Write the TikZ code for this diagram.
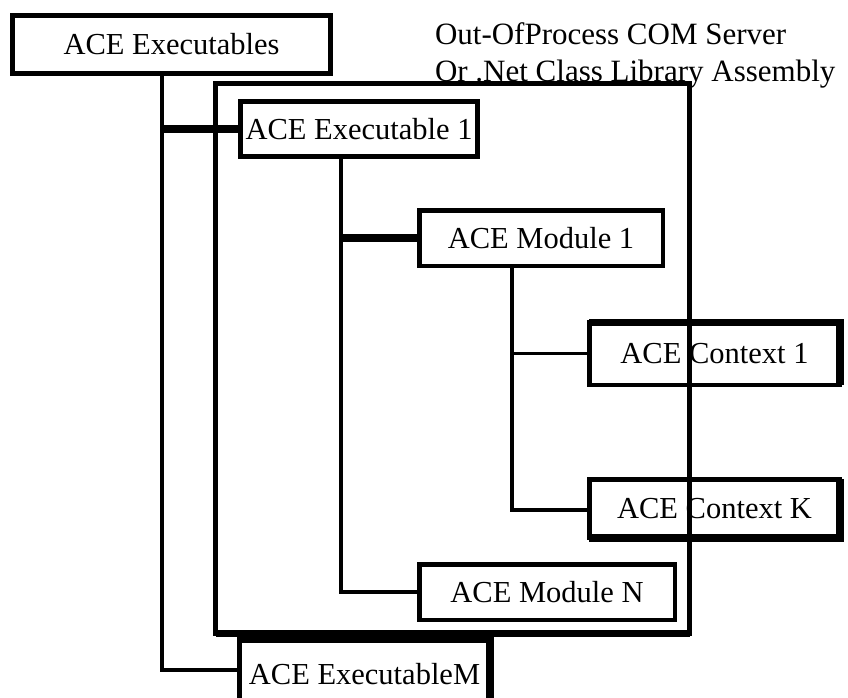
\documentclass[tikz,border=0pt]{standalone}
\usepackage{fontspec}
\setmainfont{Liberation Serif}
\usetikzlibrary{backgrounds}
\begin{document}
\begin{tikzpicture}[x=1pt,y=-1pt,
  box/.style={draw, line width=4.5pt, fill=white, inner sep=0pt, outer sep=0pt,
              font=\fontsize{30.5}{36}\selectfont},
  wire/.style={line width=3.6pt},
  bus/.style={line width=8.5pt},
  heavy/.style={line width=7.5pt},
  lbl/.style={inner sep=0pt, outer sep=0pt, font=\fontsize{31}{37}\selectfont},
]
\clip (0,0) rectangle (848,698);

% hierarchy boxes
\node[box, minimum width=318pt, minimum height=58pt] (exs) at (171.5,44.5) {ACE Executables};
\node[box, minimum width=237pt, minimum height=55pt] (ex1) at (359,129) {ACE Executable 1};
\node[box, minimum width=243.5pt, minimum height=55.5pt] (m1) at (541,238) {ACE Module 1};
\node[box, minimum width=250.5pt, minimum height=62.5pt] (c1) at (714.5,353.5) {ACE Context 1};
\node[box, minimum width=250.5pt, minimum height=58.5pt] (cK) at (714.5,508.5) {ACE Context K};
\node[box, minimum width=255.5pt, minimum height=55.5pt] (mN) at (547,592) {ACE Module N};
\node[box, minimum width=250.5pt, minimum height=69.5pt] (exM) at (364.5,674) {ACE ExecutableM};

% heavier edges on some boxes
\draw[heavy] (c1.north west) -- (c1.north east) -- (c1.south east);
\draw[heavy] (cK.north east) -- (cK.south east) -- (cK.south west);
\draw[heavy] (exM.north west) -- (exM.north east) -- (exM.south east);

% server / assembly frame
\node[draw, line width=5pt, inner sep=0pt, outer sep=0pt,
      minimum width=474pt, minimum height=550pt] (com) at (452.5,358.5) {};
\draw[heavy] (com.south west) -- (com.south east);

% tree connectors, behind the boxes
\coordinate (t1) at ([xshift=-9.5pt]exs.south);
\coordinate (t2) at ([xshift=-18pt]ex1.south);
\coordinate (t3) at ([xshift=-29pt]m1.south);
\begin{scope}[on background layer]
  \fill[white] (0,0) rectangle (848,698);
  \draw[wire] (t1) |- ([yshift=4pt]exM.west);
  \draw[bus] (t1 |- ex1.west) -- (ex1.west);
  \draw[wire] (t2) |- (mN.west);
  \draw[bus] (t2 |- m1.west) -- (m1.west);
  \draw[wire] (t3) |- ([yshift=-1.5pt]cK.west);
  \draw[wire] (t3 |- c1.west) -- (c1.west);
\end{scope}

% frame caption
\node[lbl, anchor=base west] (l1) at (435,45) {Out-OfProcess COM Server};
\node[lbl, anchor=base west] (l2) at (435,82) {Or .Net Class Library Assembly};
\end{tikzpicture}
\end{document}
